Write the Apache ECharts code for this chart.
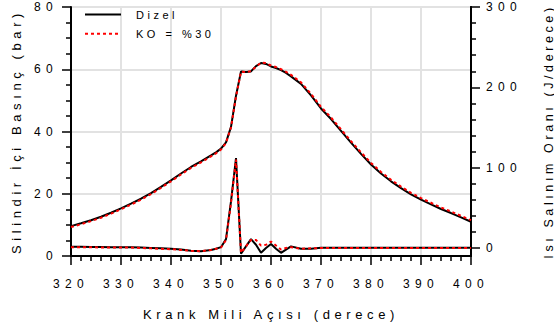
<!DOCTYPE html>
<html><head><meta charset="utf-8">
<script src="https://cdn.jsdelivr.net/npm/echarts@6/dist/echarts.min.js"></script>
<style>
html,body{margin:0;padding:0;background:#fff}
#c{width:554px;height:334px}
/* wide letter spacing of the reference lettering */
#c svg text{letter-spacing:5.3px}
#c svg text[style*="13px"],#c svg text[font-size="13"],#c svg text[font-size="13px"]{letter-spacing:4.6px}
#c svg text[style*="12.5px"],#c svg text[font-size="12.5"],#c svg text[font-size="12.5px"]{letter-spacing:3.6px}
#c svg text[style*="11px"],#c svg text[font-size="11"],#c svg text[font-size="11px"]{letter-spacing:3.5px}
</style>
</head><body><div id="c"></div>
<script>
// ---- data ----
const angles = [320,322,324,326,328,330,332,334,336,338,340,342,344,346,348,349,350,351,352,353,354,355,356,357,358,359,360,361,362,363,364,366,368,370,372,374,376,378,380,382,384,386,388,390,392,394,396,398,400];
const pressureDizel = [9.6,10.5,11.5,12.6,13.9,15.3,16.8,18.4,20.2,22.2,24.3,26.5,28.6,30.4,32.3,33.3,34.5,36.5,41.5,51.5,59.3,59.1,59.3,61.0,62.0,61.7,60.9,60.4,59.7,58.8,57.7,55.3,51.6,47.4,44.0,40.2,36.4,32.8,29.4,26.5,24.0,21.8,19.8,18.1,16.6,15.1,13.8,12.4,11.0];
const pressureKO    = [9.3,10.2,11.2,12.3,13.6,15.0,16.5,18.1,19.9,21.9,24.0,26.2,28.3,30.1,32.0,33.0,34.2,36.3,41.3,51.2,59.2,59.1,59.4,60.8,62.1,62.0,61.2,60.7,60.0,59.2,58.2,55.8,52.1,47.9,44.5,40.7,36.9,33.3,29.9,27.0,24.5,22.3,20.3,18.6,17.1,15.6,14.3,12.9,11.5];
const heatDizel = [1.5,1.5,1.2,1.2,1,1,0.8,0.5,0,-0.5,-1,-2,-3.5,-4,-2.5,-1,1,11,58,112,-7,2,11,4,-6,0,5,-1,-6,-2,2,-1,-1,0.3,0.3,0.3,0.3,0.3,0.3,0.3,0.3,0.3,0.3,0.3,0.3,0.3,0.3,0.3,0.3];
const heatKO    = [1,1,1,0.5,0.5,0.5,0.5,0,-0.5,-1,-1.5,-2.5,-3.5,-4,-2.5,-1,0.5,10,56,110,-6,2,10,10,3,4,8,3,-2,0,1,-1,-0.5,0,0,0,0,0,0,0,0,0,0,0,0,0,0,0,0];
const seriesNames = ['Dizel', 'KO = %30'];
const xTitle = 'Krank Mili Açısı (derece)';
const leftTitle = 'Silindir İçi Basınç (bar)';
const rightTitle = 'Isı Salınım Oranı (J/derece)';
const rightLabelValues = [0, 100, 200, 300];
const rightMinorTickValues = [20,40,60,80,120,140,160,180,220,240,260,280];

const pairs = (ys) => angles.map((a, i) => [a, ys[i]]);
const FONT = "'Liberation Sans', Arial, sans-serif";
const black = () => ({color: '#000', width: 2});
const gridLine = () => ({show: true, lineStyle: {color: '#e2e2e2', width: 2}});
const tickStyle = () => ({color: '#000', width: 1.5});

const option = {
  animation: false,
  backgroundColor: '#fff',
  textStyle: {fontFamily: FONT},
  grid: {left: 71, right: 83, top: 7, bottom: 78, containLabel: false, outerBoundsMode: 'none'},
  legend: {
    left: 79, top: 4, orient: 'vertical', itemWidth: 36, itemHeight: 14, itemGap: 8,
    selectedMode: false, data: seriesNames, itemStyle: {opacity: 0},
    textStyle: {fontSize: 11, color: '#000', fontFamily: FONT, padding: [6, 0, 0, 10]}
  },
  xAxis: {
    type: 'value', min: 320, max: 400, interval: 10,
    axisLine: {onZero: false, lineStyle: black()},
    axisTick: {show: true, length: 9, lineStyle: tickStyle()},
    minorTick: {show: true, splitNumber: 5, length: 5, lineStyle: tickStyle()},
    splitLine: gridLine(),
    axisLabel: {margin: 22, fontSize: 12, color: '#000', fontFamily: FONT,
                alignMinLabel: 'center', alignMaxLabel: 'center'},
    name: xTitle, nameLocation: 'middle', nameGap: 52,
    nameTextStyle: {fontSize: 13, color: '#000', fontFamily: FONT}
  },
  yAxis: [
    {
      type: 'value', position: 'left', min: 0, max: 80, interval: 20,
      axisLine: {show: true, onZero: false, lineStyle: black()},
      axisTick: {show: true, length: 9, lineStyle: tickStyle()},
      minorTick: {show: true, splitNumber: 4, length: 5, lineStyle: tickStyle()},
      splitLine: gridLine(),
      axisLabel: {margin: 13, fontSize: 12, color: '#000', fontFamily: FONT},
      name: leftTitle, nameLocation: 'middle', nameGap: 48, nameRotate: 90,
      nameTextStyle: {fontSize: 13, color: '#000', fontFamily: FONT}
    },
    {
      type: 'value', position: 'right', min: -10, max: 300,
      axisLine: {show: true, onZero: false, lineStyle: black()},
      axisTick: {show: true, length: 9, lineStyle: tickStyle(), customValues: rightLabelValues},
      axisLabel: {margin: 15, fontSize: 12, color: '#000', fontFamily: FONT, customValues: rightLabelValues},
      splitLine: {show: false},
      name: rightTitle, nameLocation: 'middle', nameGap: 71, nameRotate: 90,
      nameTextStyle: {fontSize: 12.5, color: '#000', fontFamily: FONT}
    },
    {
      type: 'value', position: 'right', min: -10, max: 300,
      axisLine: {show: true, onZero: false, lineStyle: black()},
      axisTick: {show: true, length: 5, lineStyle: tickStyle(), customValues: rightMinorTickValues},
      axisLabel: {show: false},
      splitLine: {show: false}
    }
  ],
  series: [
    {name: seriesNames[0], type: 'line', yAxisIndex: 0, data: pairs(pressureDizel), showSymbol: false, symbol: 'none',
     lineStyle: {color: '#000', width: 2}, itemStyle: {color: '#000'}, z: 2},
    {name: seriesNames[0], type: 'line', yAxisIndex: 1, data: pairs(heatDizel), showSymbol: false, symbol: 'none',
     lineStyle: {color: '#000', width: 2}, itemStyle: {color: '#000'}, z: 2},
    {name: seriesNames[1], type: 'line', yAxisIndex: 0, data: pairs(pressureKO), showSymbol: false, symbol: 'none',
     lineStyle: {color: '#ff0000', width: 2, type: [3, 3]}, itemStyle: {color: '#ff0000'}, z: 3},
    {name: seriesNames[1], type: 'line', yAxisIndex: 1, data: pairs(heatKO), showSymbol: false, symbol: 'none',
     lineStyle: {color: '#ff0000', width: 2, type: [3, 3]}, itemStyle: {color: '#ff0000'}, z: 3}
  ]
};
const chart = echarts.init(document.getElementById('c'), null, {renderer: 'svg'});
chart.setOption(option);
</script></body></html>
